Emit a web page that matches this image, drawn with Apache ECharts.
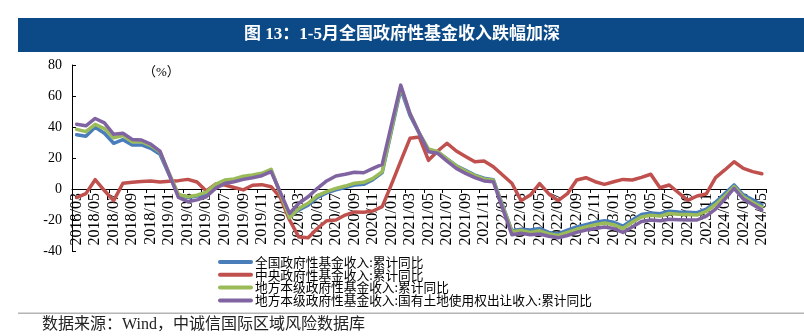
<!DOCTYPE html>
<html>
<head>
<meta charset="utf-8">
<script src="https://cdn.jsdelivr.net/npm/echarts@6/dist/echarts.min.js"></script>
<style>
  html, body { margin: 0; padding: 0; background: #fff; }
  #chart { width: 804px; height: 336px; }
</style>
</head>
<body>
<div id="chart"></div>
<script>
// Monthly categories, 2018/03 – 2024/05
const months = [
  '2018/03','2018/04','2018/05','2018/06','2018/07','2018/08','2018/09','2018/10','2018/11','2018/12',
  '2019/01','2019/02','2019/03','2019/04','2019/05','2019/06','2019/07','2019/08','2019/09','2019/10','2019/11','2019/12',
  '2020/01','2020/02','2020/03','2020/04','2020/05','2020/06','2020/07','2020/08','2020/09','2020/10','2020/11','2020/12',
  '2021/01','2021/02','2021/03','2021/04','2021/05','2021/06','2021/07','2021/08','2021/09','2021/10','2021/11','2021/12',
  '2022/01','2022/02','2022/03','2022/04','2022/05','2022/06','2022/07','2022/08','2022/09','2022/10','2022/11','2022/12',
  '2023/01','2023/02','2023/03','2023/04','2023/05','2023/06','2023/07','2023/08','2023/09','2023/10','2023/11','2023/12',
  '2024/01','2024/02','2024/03','2024/04','2024/05'
];

// 全国政府性基金收入:累计同比 (%)
const national = [
  35, 34, 39.8, 36, 29.5, 31.8, 28.4, 28.4, 26.2, 22.4,
  9, -4, -5.5, -4.5, -3.5, 1.5, 4.3, 5.2, 6.9, 8, 9, 12.3,
  -3, -18, -13.5, -10.5, -5.5, -2.5, -0.5, 1, 2.5, 3, 6, 10.5,
  37.5, 64.5, 47.5, 36, 25, 24, 19.5, 15, 12, 9, 7, 6,
  -10.5, -27, -26, -26.5, -25.5, -28, -29, -26.5, -24.5, -23, -21.5, -20.5,
  -21.5, -24, -20, -16.5, -15.5, -16, -14.3, -14.8, -15, -15.3, -13, -8.5,
  -3, 2.6, -3.8, -7, -10.3
];

// 中央政府性基金收入:累计同比 (%)
const central = [
  -5.5, -3, 6, -1, -7.5, 3.7, 4.3, 4.8, 5.2, 4.5,
  5, 5.4, 6.2, 4.5, -1.3, 3.2, 2.6, 1, -0.6, 2.4, 2.8, 1.5,
  -5.5, -20, -31, -31.5, -25.5, -20.5, -20, -16.8, -14.8, -15, -14.2, -11.4,
  3, 18, 32.7, 33.5, 18.5, 24.5, 29.5, 24.5, 21, 17.6, 18, 14.4,
  9, 3.7, -7.5, -3.9, 3.5, -3.2, -7.5, -3, 5.8, 7.3, 4.7, 3,
  4.7, 6.2, 5.8, 7.5, 9.5, 0.8, 2.6, -2.4, -7.3, -4.5, -3.2, 7.3,
  12.3, 17.6, 13.3, 11.2, 9.8
];

// 地方本级政府性基金收入:累计同比 (%)
const local = [
  38.5, 37, 41.7, 39, 33, 34.5, 30.5, 30.5, 28, 24,
  10, -3.5, -5, -4, -2, 3, 5.8, 6.5, 8.2, 9, 10.1, 12.7,
  -3, -18.5, -12.5, -9.2, -4.3, -1.7, 0.4, 1.9, 3.7, 4.3, 6.9, 11.2,
  38.6, 66, 48.8, 36, 25.8, 24, 19.4, 14.8, 11.6, 8.6, 6.5, 5.6,
  -11, -27.5, -26.8, -28, -27, -29, -30, -28, -26, -24.5, -23, -22,
  -23, -25.5, -21.5, -18, -17, -17.5, -15.8, -16.3, -16.5, -16.8, -14.5, -10,
  -4.5, 1.5, -5, -8.5, -11.8
];

// 地方本级政府性基金收入:国有土地使用权出让收入:累计同比 (%)
const landSales = [
  41.8, 40.8, 45.5, 42.7, 35.3, 36, 32, 31.6, 29, 24.5,
  9.5, -5.5, -8.2, -7, -5, 0.4, 3.6, 4.7, 6.2, 7.3, 8.6, 11.2,
  -2.2, -15.7, -9.2, -5, 0.4, 5.2, 8.4, 9.5, 10.8, 10.5, 13.3, 15.9,
  41.5, 67, 48.5, 35.9, 24, 23, 18, 13.3, 10.1, 7.3, 5.2, 4.7,
  -12.5, -29.5, -28.5, -29.5, -29, -30.5, -31.5, -30, -28, -26.5, -25.5, -24.5,
  -25.5, -28, -24.5, -21, -20, -20.5, -19.5, -19.8, -20, -20, -17.5, -13,
  -6.5, 0.4, -6.5, -10, -13.5
];

const seriesNames = [
  '全国政府性基金收入:累计同比',
  '中央政府性基金收入:累计同比',
  '地方本级政府性基金收入:累计同比',
  '地方本级政府性基金收入:国有土地使用权出让收入:累计同比'
];
const seriesData = [national, central, local, landSales];
const colors = ['#4a7ebb', '#c0504d', '#9bbb59', '#8064a2'];

const yTicks = { min: -40, max: 80, step: 20 };

const serif = '"Liberation Serif", "Noto Sans CJK SC", serif';
const cjk = '"Noto Sans CJK SC", sans-serif';

const gridTop = 65, gridBottom = 85, chartH = 336;
const gridH = chartH - gridTop - gridBottom;
// distance from the plot's bottom edge up to the zero line
const zeroLift = gridH * (0 - yTicks.min) / (yTicks.max - yTicks.min);

// Key below the plot: one row per series, a short thick stroke then the name
const keyLeft = 218, keyTop = 262, keyRow = 12.8;
const keyItems = [];
seriesNames.forEach((name, k) => {
  const cy = keyTop + k * keyRow;
  keyItems.push({
    type: 'line', silent: true,
    shape: { x1: keyLeft + 2, y1: cy, x2: keyLeft + 33, y2: cy },
    style: { stroke: colors[k], lineWidth: 4, lineCap: 'round' }
  });
  keyItems.push({
    type: 'text', silent: true, x: keyLeft + 37, y: cy,
    style: { text: name, fill: '#000', font: '12.7px ' + cjk, verticalAlign: 'middle' }
  });
});

const chart = echarts.init(document.getElementById('chart'), null, { renderer: 'canvas' });

chart.setOption({
  animation: false,
  backgroundColor: '#fff',
  grid: { left: 72, right: 37.5, top: gridTop, bottom: gridBottom },
  graphic: [
    {
      type: 'rect', left: 18, top: 18,
      shape: { width: 786, height: 34 },
      style: { fill: '#0b4a86' }, silent: true
    },
    {
      type: 'text', left: 'center', top: 26,
      style: {
        text: '图 13：1-5月全国政府性基金收入跌幅加深',
        fill: '#fff', font: 'bold 17px ' + serif
      }
    },
    {
      type: 'text', left: 143, top: 66,
      style: { text: '（%）', fill: '#000', font: '13px ' + serif }
    },
    {
      type: 'rect', left: 18, top: 312.5,
      shape: { width: 786, height: 1.5 },
      style: { fill: '#b4b4b4' }, silent: true
    },
    {
      type: 'text', left: 42, top: 317,
      style: {
        text: '数据来源：Wind，中诚信国际区域风险数据库',
        fill: '#222', font: '16px ' + serif
      }
    }
  ].concat(keyItems),
  xAxis: {
    type: 'category',
    data: months,
    boundaryGap: true,
    position: 'bottom',
    offset: -zeroLift,
    axisLine: { onZero: false, lineStyle: { color: '#000', width: 1 } },
    axisTick: { show: true, interval: 1, length: 4, lineStyle: { color: '#000' } },
    axisLabel: {
      interval: 1, rotate: 90, margin: 4, hideOverlap: false,
      fontFamily: serif, fontSize: 16, color: '#000'
    },
    splitLine: { show: false }
  },
  yAxis: {
    type: 'value',
    min: yTicks.min, max: yTicks.max, interval: yTicks.step,
    axisLine: { show: true, lineStyle: { color: '#000', width: 1 } },
    axisTick: { show: true, inside: true, length: 4, lineStyle: { color: '#000' } },
    axisLabel: { margin: 10, fontFamily: serif, fontSize: 14, color: '#000' },
    splitLine: { show: false }
  },
  series: seriesData.map((d, k) => ({
    name: seriesNames[k],
    type: 'line',
    data: d,
    symbol: 'none',
    smooth: false,
    lineStyle: { width: 3.5, color: colors[k], cap: 'round', join: 'round' },
    z: 2 + k
  }))
});
</script>
</body>
</html>
